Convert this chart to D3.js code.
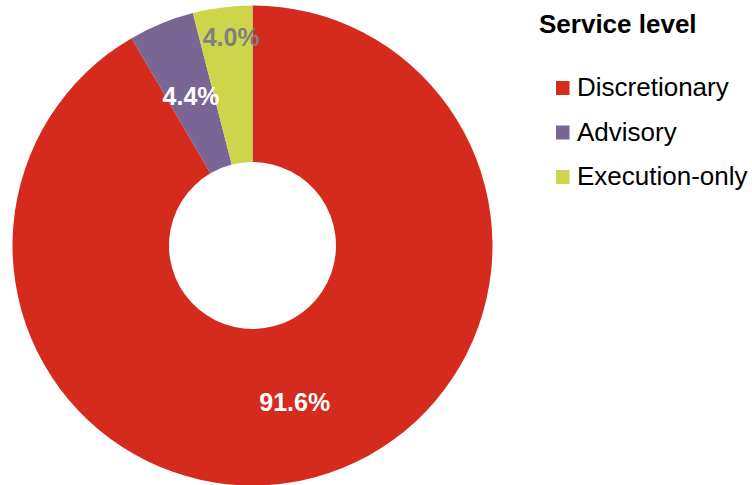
<!DOCTYPE html>
<html lang="en">
<head>
<meta charset="UTF-8">
<title>Service level</title>
<style>
  body { margin: 0; background: #fff; }
  text { font-family: "Liberation Sans", Arial, sans-serif; }
</style>
</head>
<body>
<div class="pie"></div>
<script src="https://cdn.jsdelivr.net/npm/d3@7"></script>
<script>
// data
const categories = ['Discretionary', 'Advisory', 'Execution-only']
const shares = [91.6, 4.4, 4.0]
const colors = ['#d52b1e', '#7a6694', '#cdd64b']
const labelColors = ['#ffffff', '#ffffff', '#7f7f7f']
const legendTitle = 'Service level'

let width = 752,
    height = 485

let cx = 252.5, cy = 245.5
let outerR = 240, innerR = 83.5

let svg = d3.select('.pie')
    .append('svg')
    .attr('width', width)
    .attr('height', height)

let g = svg.append('g')
    .attr('transform', `translate(${cx},${cy})`)

let data = categories.map((c, i) => ({ name: c, value: shares[i], color: colors[i], label: labelColors[i] }))

let pie = d3.pie().sort(null).value(d => d.value)
let arc = d3.arc().innerRadius(innerR).outerRadius(outerR)

let slices = pie(data)

g.selectAll('.slice')
    .data(slices)
    .join('path')
    .attr('class', 'slice')
    .attr('d', arc)
    .attr('fill', d => d.data.color)

// the thin slice gets its label pushed outward
let labelArc = d3.arc().innerRadius(180).outerRadius(240)

g.selectAll('.val')
    .data(slices)
    .join('text')
    .attr('class', 'val')
    .attr('transform', d => {
        let p = d.data.value < 4.2 ? labelArc.centroid(d) : arc.centroid(d)
        if (d.data.value < 4.2) p[0] += 5
        return `translate(${p[0]},${p[1]})`
    })
    .attr('text-anchor', 'middle')
    .attr('dy', '0.36em')
    .style('font-size', '25px')
    .style('font-weight', 'bold')
    .attr('fill', d => d.data.label)
    .text(d => d.data.value.toFixed(1) + '%')

// legend
let legend = svg.append('g').attr('transform', 'translate(539,0)')

legend.append('text')
    .attr('x', 0)
    .attr('y', 33)
    .style('font-size', '26px')
    .style('font-weight', 'bold')
    .attr('fill', '#000')
    .text(legendTitle)

let rowY = d3.scalePoint().domain(categories).range([96, 185])

let rows = legend.selectAll('.row')
    .data(data)
    .join('g')
    .attr('class', 'row')
    .attr('transform', d => `translate(0,${rowY(d.name)})`)

rows.append('rect')
    .attr('x', 17)
    .attr('y', -15)
    .attr('width', 13.5)
    .attr('height', 14)
    .attr('fill', d => d.color)

rows.append('text')
    .attr('x', 38)
    .attr('y', 0)
    .style('font-size', '26px')
    .attr('fill', '#000')
    .text(d => d.name)
</script>
</body>
</html>
